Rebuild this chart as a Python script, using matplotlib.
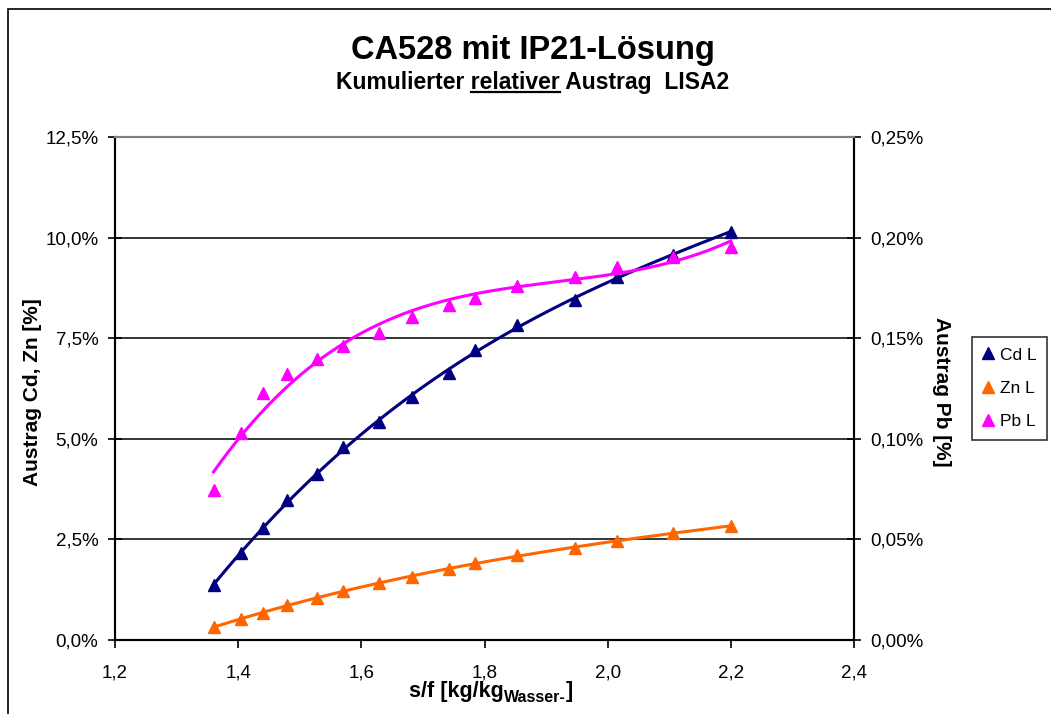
import matplotlib
matplotlib.use("Agg")
import matplotlib.pyplot as plt
from matplotlib.patches import Rectangle
from matplotlib.lines import Line2D
import numpy as np

plt.rcParams['font.family'] = ['Liberation Sans', 'DejaVu Sans']

# s/f values (same for all three series)
sf = [1.360, 1.405, 1.440, 1.479, 1.528, 1.571, 1.628, 1.682,
      1.742, 1.785, 1.852, 1.947, 2.015, 2.106, 2.200]
# cumulative relative discharge in %
cd = [1.37, 2.15, 2.78, 3.48, 4.12, 4.80, 5.42, 6.05,
      6.63, 7.21, 7.83, 8.45, 9.03, 9.57, 10.15]
zn = [0.33, 0.51, 0.68, 0.87, 1.04, 1.23, 1.41, 1.57,
      1.76, 1.92, 2.11, 2.28, 2.47, 2.65, 2.84]
pb = [0.0746, 0.1027, 0.1226, 0.1322, 0.1395, 0.1461, 0.1524, 0.1607,
      0.1665, 0.1702, 0.1759, 0.1806, 0.1855, 0.1905, 0.1952]

x_ticks = [1.2, 1.4, 1.6, 1.8, 2.0, 2.2, 2.4]
left_ticks = [0, 2.5, 5, 7.5, 10, 12.5]
right_ticks = [0, 0.05, 0.10, 0.15, 0.20, 0.25]

c_cd = "#000080"
c_zn = "#FF6600"
c_pb = "#FF00FF"

W, H = 1051, 714
fig = plt.figure(figsize=(W / 100, H / 100), dpi=100)
ax = fig.add_axes([115 / W, 1 - 640 / H, (854 - 115) / W, (640 - 137) / H])
ax2 = ax.twinx()

# chart frame
fig.patches.append(Rectangle((8 / W, -0.1), 1.2, 1 - 9 / H + 0.1, transform=fig.transFigure,
                             fill=False, edgecolor="black", lw=1.2))


def trend(x, y, deg=3):
    p = np.polyfit(x, y, deg)
    xs = np.linspace(min(x), max(x), 200)
    return xs, np.polyval(p, xs)


xs, ys = trend(sf, cd)
ax.plot(xs, ys, color=c_cd, lw=2.2, zorder=3)
ax.plot(sf, cd, "^", color=c_cd, ms=8.5, zorder=4)
xs, ys = trend(sf, zn)
ax.plot(xs, ys, color=c_zn, lw=2.2, zorder=3)
ax.plot(sf, zn, "^", color=c_zn, ms=8.5, zorder=4)
xs, ys = trend(sf, pb)
ax2.plot(xs, ys, color=c_pb, lw=2.2, zorder=3)
ax2.plot(sf, pb, "^", color=c_pb, ms=8.5, zorder=4)

ax.set_xlim(1.2, 2.4)
ax.set_ylim(0, 12.5)
ax2.set_ylim(0, 0.25)
ax.hlines(left_ticks[1:-1], 1.2, 2.4, colors="black", lw=1.1, zorder=1)

ax.set_xticks(x_ticks)
ax.set_xticklabels([f"{v:.1f}".replace(".", ",") for v in x_ticks], fontsize=13.5)
ax.set_yticks(left_ticks)
ax.set_yticklabels([f"{v:.1f}%".replace(".", ",") for v in left_ticks], fontsize=13.5)
ax2.set_yticks(right_ticks)
ax2.set_yticklabels([f"{v:.2f}%".replace(".", ",") for v in right_ticks], fontsize=13.5)

ax.tick_params(axis="x", direction="out", length=6, width=1.2, pad=12)
ax.tick_params(axis="y", direction="inout", length=10, width=1.2, pad=7)
ax2.tick_params(axis="y", direction="inout", length=10, width=1.2, pad=7)

for a in (ax, ax2):
    a.spines["top"].set_color("#808080")
    a.spines["top"].set_linewidth(1.5)
    for s in ("left", "right", "bottom"):
        a.spines[s].set_linewidth(1.5)
        a.spines[s].set_color("black")

fig.text(33 / W, 1 - 392 / H, "Austrag Cd, Zn [%]", fontsize=15, fontweight="bold",
         rotation=90, ha="center", va="center")
fig.text(941 / W, 1 - 392 / H, "Austrag Pb [%]", fontsize=15, fontweight="bold",
         rotation=-90, ha="center", va="center")

fig.text(533 / W, 1 - 50 / H, "CA528 mit IP21-Lösung", fontsize=23.5, fontweight="bold",
         ha="center", va="center")
sub = "Kumulierter relativer Austrag  LISA2"
st = fig.text(533 / W, 1 - 82 / H, sub, fontsize=16.5, fontweight="bold", ha="center", va="center")

fig.canvas.draw()
r = fig.canvas.get_renderer()


def width_of(s, size):
    t = fig.text(0, 0, s, fontsize=size, fontweight="bold")
    w = t.get_window_extent(r).width
    t.remove()
    return w


# underline "relativer"
bb = st.get_window_extent(r)
x_end = bb.x0 + width_of("Kumulierter relativer", 16.5)
x_start = x_end - width_of("relativer", 16.5)
y_ul = bb.y0 + 2
fig.add_artist(Line2D([x_start / W, x_end / W], [y_ul / H, y_ul / H], transform=fig.transFigure,
                      color="black", lw=1.6))

# x label with subscript, built from pieces
parts = [("s/f [kg/kg", 15.5, 0), ("Wasser-", 11.5, -5), ("]", 15.5, 0)]
widths = [width_of(p[0], p[1]) for p in parts]
x0 = 491 - sum(widths) / 2
y_base = H - 697
for (txt, size, dy), w in zip(parts, widths):
    fig.text(x0 / W, (y_base + dy) / H, txt, fontsize=size, fontweight="bold",
             ha="left", va="baseline")
    x0 += w

handles = [Line2D([], [], marker="^", ls="none", color=c, ms=8.5) for c in (c_cd, c_zn, c_pb)]
leg = fig.legend(handles, ["Cd L", "Zn L", "Pb L"], loc="upper left",
                 bbox_to_anchor=(972 / W, 1 - 337 / H), fontsize=12.5, frameon=True,
                 fancybox=False, edgecolor="black", handlelength=0.7, handletextpad=0.3,
                 labelspacing=1.05, borderpad=0.6, borderaxespad=0)
leg.get_frame().set_linewidth(1.2)

fig.savefig("out.png", dpi=100)
